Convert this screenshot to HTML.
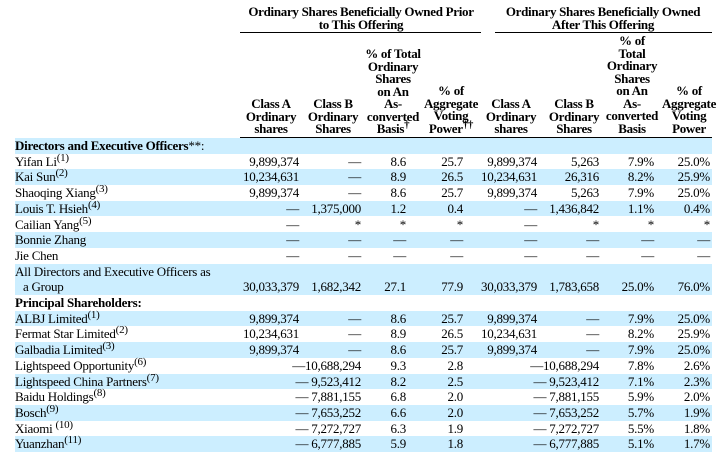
<!DOCTYPE html>
<html><head><meta charset="utf-8"><style>
body{margin:0;width:717px;height:460px;background:#fff;position:relative;overflow:hidden;font-family:"Liberation Serif",serif;color:#000}
.h{position:absolute;font-weight:bold;font-size:13px;line-height:12.5px;text-align:center;letter-spacing:-0.3px}
.ln{position:absolute;height:1px;background:#000}
.r{position:absolute;left:15px;width:697px;height:15.7px;font-size:13px;line-height:15.7px;letter-spacing:-0.25px}
.b{background:#cceeff}
.r span{position:absolute;white-space:nowrap}
.l{left:0}
sup{font-size:11px;line-height:0;vertical-align:5px}
.c1{right:413px}.c2{right:351px}.c3{right:306px}.c4{right:249px}
.c5{right:175px}.c6{right:113px}.c7{right:58px}.c8{right:2px}
</style></head><body>
<div class="h" style="left:230px;width:262px;top:6px">Ordinary Shares Beneficially Owned Prior<br>to This Offering</div>
<div class="h" style="left:488px;width:230px;top:6px">Ordinary Shares Beneficially Owned<br>After This Offering</div>
<div class="ln" style="left:240px;width:241px;top:32px"></div>
<div class="ln" style="left:495px;width:217px;top:32px"></div>
<div class="ln" style="left:240px;width:472px;top:137px"></div>
<div class="h" style="left:241px;width:60px;top:98px">Class A<br>Ordinary<br>shares</div>
<div class="h" style="left:303px;width:60px;top:98px">Class B<br>Ordinary<br>Shares</div>
<div class="h" style="left:360px;width:66px;top:48px">% of Total<br>Ordinary<br>Shares<br>on An<br>As-<br>converted<br>Basis<sup>†</sup></div>
<div class="h" style="left:419px;width:64px;top:85px">% of<br>Aggregate<br>Voting<br>Power<sup>††</sup></div>
<div class="h" style="left:481px;width:60px;top:98px">Class A<br>Ordinary<br>shares</div>
<div class="h" style="left:544px;width:60px;top:98px">Class B<br>Ordinary<br>Shares</div>
<div class="h" style="left:599px;width:66px;top:35px">% of<br>Total<br>Ordinary<br>Shares<br>on An<br>As-<br>converted<br>Basis</div>
<div class="h" style="left:656px;width:66px;top:85px">% of<br>Aggregate<br>Voting<br>Power</div>

<div class="r b" style="top:138px"><span class="l"><b>Directors and Executive Officers</b>**:</span></div>
<div class="r" style="top:153.7px"><span class="l">Yifan Li<sup>(1)</sup></span><span class="c1">9,899,374</span><span class="c2">—</span><span class="c3">8.6</span><span class="c4">25.7</span><span class="c5">9,899,374</span><span class="c6">5,263</span><span class="c7">7.9%</span><span class="c8">25.0%</span></div>
<div class="r b" style="top:169.4px"><span class="l">Kai Sun<sup>(2)</sup></span><span class="c1">10,234,631</span><span class="c2">—</span><span class="c3">8.9</span><span class="c4">26.5</span><span class="c5">10,234,631</span><span class="c6">26,316</span><span class="c7">8.2%</span><span class="c8">25.9%</span></div>
<div class="r" style="top:185.1px"><span class="l">Shaoqing Xiang<sup>(3)</sup></span><span class="c1">9,899,374</span><span class="c2">—</span><span class="c3">8.6</span><span class="c4">25.7</span><span class="c5">9,899,374</span><span class="c6">5,263</span><span class="c7">7.9%</span><span class="c8">25.0%</span></div>
<div class="r b" style="top:200.8px"><span class="l">Louis T. Hsieh<sup>(4)</sup></span><span class="c1">—</span><span class="c2">1,375,000</span><span class="c3">1.2</span><span class="c4">0.4</span><span class="c5">—</span><span class="c6">1,436,842</span><span class="c7">1.1%</span><span class="c8">0.4%</span></div>
<div class="r" style="top:216.5px"><span class="l">Cailian Yang<sup>(5)</sup></span><span class="c1">—</span><span class="c2">*</span><span class="c3">*</span><span class="c4">*</span><span class="c5">—</span><span class="c6">*</span><span class="c7">*</span><span class="c8">*</span></div>
<div class="r b" style="top:232.2px"><span class="l">Bonnie Zhang</span><span class="c1">—</span><span class="c2">—</span><span class="c3">—</span><span class="c4">—</span><span class="c5">—</span><span class="c6">—</span><span class="c7">—</span><span class="c8">—</span></div>
<div class="r" style="top:247.9px"><span class="l">Jie Chen</span><span class="c1">—</span><span class="c2">—</span><span class="c3">—</span><span class="c4">—</span><span class="c5">—</span><span class="c6">—</span><span class="c7">—</span><span class="c8">—</span></div>
<div class="r b" style="top:263.6px;height:31.4px"><span class="l">All Directors and Executive Officers as</span><span class="l" style="left:8px;top:15.7px">a Group</span><span class="c1" style="top:15.7px">30,033,379</span><span class="c2" style="top:15.7px">1,682,342</span><span class="c3" style="top:15.7px">27.1</span><span class="c4" style="top:15.7px">77.9</span><span class="c5" style="top:15.7px">30,033,379</span><span class="c6" style="top:15.7px">1,783,658</span><span class="c7" style="top:15.7px">25.0%</span><span class="c8" style="top:15.7px">76.0%</span></div>
<div class="r" style="top:295px"><span class="l"><b>Principal Shareholders:</b></span></div>
<div class="r b" style="top:310.7px"><span class="l">ALBJ Limited<sup>(1)</sup></span><span class="c1">9,899,374</span><span class="c2">—</span><span class="c3">8.6</span><span class="c4">25.7</span><span class="c5">9,899,374</span><span class="c6">—</span><span class="c7">7.9%</span><span class="c8">25.0%</span></div>
<div class="r" style="top:326.4px"><span class="l">Fermat Star Limited<sup>(2)</sup></span><span class="c1">10,234,631</span><span class="c2">—</span><span class="c3">8.9</span><span class="c4">26.5</span><span class="c5">10,234,631</span><span class="c6">—</span><span class="c7">8.2%</span><span class="c8">25.9%</span></div>
<div class="r b" style="top:342.1px"><span class="l">Galbadia Limited<sup>(3)</sup></span><span class="c1">9,899,374</span><span class="c2">—</span><span class="c3">8.6</span><span class="c4">25.7</span><span class="c5">9,899,374</span><span class="c6">—</span><span class="c7">7.9%</span><span class="c8">25.0%</span></div>
<div class="r" style="top:357.8px"><span class="l">Lightspeed Opportunity<sup>(6)</sup></span><span class="c2">—10,688,294</span><span class="c3">9.3</span><span class="c4">2.8</span><span class="c6">—10,688,294</span><span class="c7">7.8%</span><span class="c8">2.6%</span></div>
<div class="r b" style="top:373.5px"><span class="l">Lightspeed China Partners<sup>(7)</sup></span><span class="c2">— 9,523,412</span><span class="c3">8.2</span><span class="c4">2.5</span><span class="c6">— 9,523,412</span><span class="c7">7.1%</span><span class="c8">2.3%</span></div>
<div class="r" style="top:389.2px"><span class="l">Baidu Holdings<sup>(8)</sup></span><span class="c2">— 7,881,155</span><span class="c3">6.8</span><span class="c4">2.0</span><span class="c6">— 7,881,155</span><span class="c7">5.9%</span><span class="c8">2.0%</span></div>
<div class="r b" style="top:404.9px"><span class="l">Bosch<sup>(9)</sup></span><span class="c2">— 7,653,252</span><span class="c3">6.6</span><span class="c4">2.0</span><span class="c6">— 7,653,252</span><span class="c7">5.7%</span><span class="c8">1.9%</span></div>
<div class="r" style="top:420.6px"><span class="l">Xiaomi <sup>(10)</sup></span><span class="c2">— 7,272,727</span><span class="c3">6.3</span><span class="c4">1.9</span><span class="c6">— 7,272,727</span><span class="c7">5.5%</span><span class="c8">1.8%</span></div>
<div class="r b" style="top:436.3px"><span class="l">Yuanzhan<sup>(11)</sup></span><span class="c2">— 6,777,885</span><span class="c3">5.9</span><span class="c4">1.8</span><span class="c6">— 6,777,885</span><span class="c7">5.1%</span><span class="c8">1.7%</span></div>
</body></html>
